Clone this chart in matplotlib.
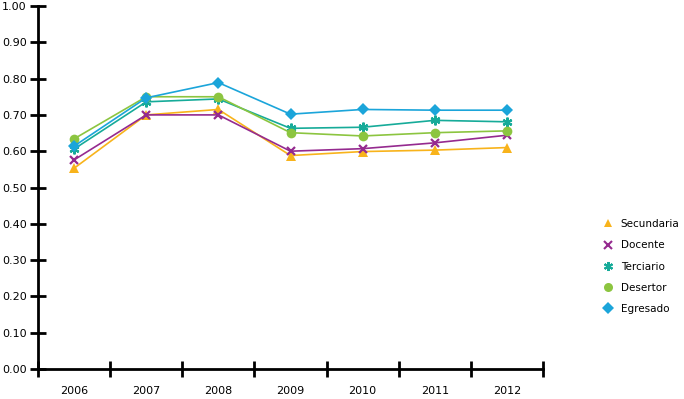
import numpy as np
import matplotlib
matplotlib.use("Agg")
from matplotlib import pyplot as plt
from matplotlib.lines import Line2D

years = ["2006", "2007", "2008", "2009", "2010", "2011", "2012"]
secundaria = [0.553, 0.700, 0.715, 0.588, 0.599, 0.603, 0.610]
docente = [0.576, 0.700, 0.700, 0.600, 0.607, 0.623, 0.644]
terciario = [0.606, 0.736, 0.744, 0.663, 0.666, 0.685, 0.681]
desertor = [0.634, 0.750, 0.750, 0.651, 0.642, 0.651, 0.656]
egresado = [0.614, 0.747, 0.789, 0.702, 0.715, 0.713, 0.713]
yticks = [0.0, 0.1, 0.2, 0.3, 0.4, 0.5, 0.6, 0.7, 0.8, 0.9, 1.0]

series = [
    ("Secundaria", secundaria, "#F8B31B", "^", 6.5),
    ("Docente", docente, "#952A8F", "x", 6),
    ("Terciario", terciario, "#16AB99", (6, 2, 0), 7),
    ("Desertor", desertor, "#8CC540", "o", 7),
    ("Egresado", egresado, "#1BA5DA", "D", 6.5),
]


def main():
    fig = plt.figure(figsize=(6.84, 3.99), dpi=100)
    ax = fig.add_axes([38 / 684, 1 - 369 / 399, (543 - 38) / 684, (369 - 6) / 399])

    x = np.arange(len(years))
    handles = []
    for name, vals, col, mk, ms in series:
        stroke = mk == "x" or isinstance(mk, tuple)
        ax.plot(x, vals, color=col, lw=1.2, marker=mk, ms=ms,
                markeredgewidth=1.6 if stroke else 0, markeredgecolor=col,
                markerfacecolor=col, zorder=3)
        handles.append(Line2D([], [], ls="none", marker=mk, ms=ms - 0.5,
                              color=col, markeredgewidth=1.5 if stroke else 0,
                              markeredgecolor=col, markerfacecolor=col))

    ax.set_xlim(-0.5, len(years) - 0.5)
    ax.set_ylim(0, 1.0)
    ax.set_yticks(yticks)
    ax.set_yticklabels(["%.2f" % v for v in yticks])
    ax.set_xticks(x)
    ax.set_xticklabels(years)
    ax.set_xticks(np.arange(len(years) + 1) - 0.5, minor=True)

    for s in ("top", "right"):
        ax.spines[s].set_visible(False)
    for s in ("left", "bottom"):
        ax.spines[s].set_linewidth(2)
    ax.tick_params(axis="y", direction="inout", length=12, width=2,
                   labelsize=8, pad=2, colors="black")
    ax.tick_params(axis="x", which="major", length=0, labelsize=8, pad=12)
    ax.tick_params(axis="x", which="minor", direction="inout", length=12, width=2)

    fig.legend(handles, [s[0] for s in series], loc="upper left",
               bbox_to_anchor=(602 / 684, 1 - 219 / 399), frameon=False,
               fontsize=7.5, handletextpad=0.6, labelspacing=1.08,
               handlelength=1.2, borderpad=0, borderaxespad=0)

    fig.savefig("out.png", dpi=100)


if __name__ == '__main__':
    main()
